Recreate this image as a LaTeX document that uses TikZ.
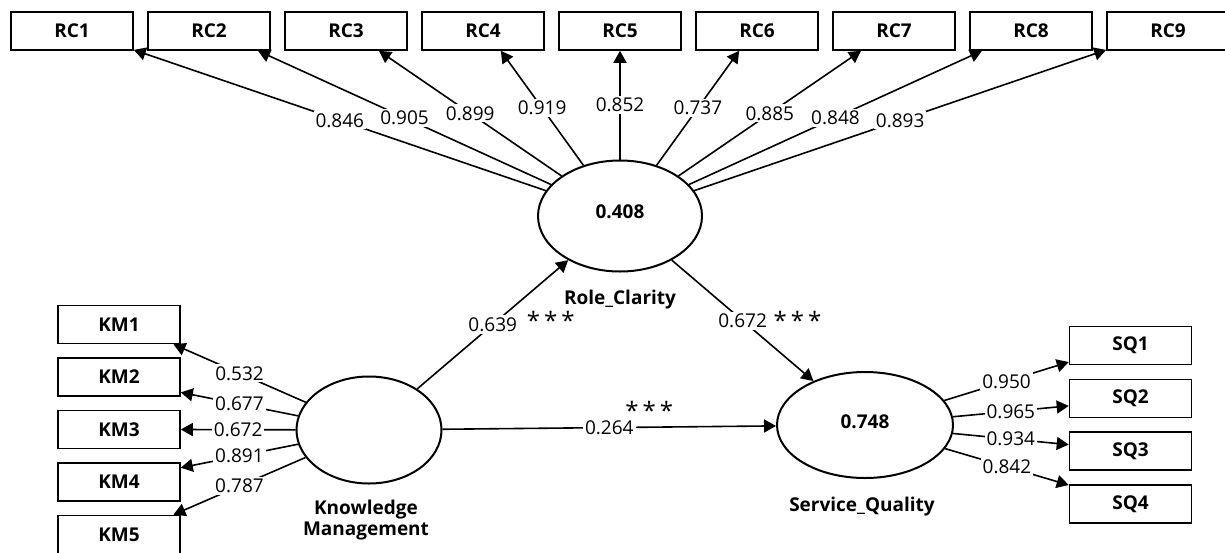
\documentclass[tikz,border=0pt]{standalone}
\usepackage{fontspec}
\setsansfont{Open Sans}
\usetikzlibrary{positioning,calc,arrows.meta,shapes.geometric}
\tikzset{
  figfont/.style={font=\fontsize{9.5}{10.5}\selectfont\sffamily},
  indbox/.style={draw, line width=0.8pt, minimum width=61pt, minimum height=19pt, inner sep=0pt, font=\fontsize{9.5}{10.5}\selectfont\sffamily\bfseries},
  latent/.style={draw, ellipse, line width=1pt, minimum width=82pt, minimum height=55.5pt, inner sep=0pt, font=\fontsize{9.5}{10.5}\selectfont\sffamily\bfseries},
  latname/.style={inner sep=1pt, font=\fontsize{9.5}{10.5}\selectfont\sffamily\bfseries},
  loadarrow/.style={-{Triangle[length=6pt,width=6.5pt]}, line width=0.8pt},
  loadval/.style={fill=white, inner sep=1pt},
  stars/.style={inner sep=0pt, font=\fontsize{12}{12}\selectfont\sffamily},
}

\begin{document}
\begin{tikzpicture}[x=0.5pt,y=-0.5pt,figfont]
  \useasboundingbox (0,0) rectangle (1225,552);

  % Latent constructs
  \node[latent] (rc) at (620,216) {\raisebox{4pt}{0.408}};
  \node[latent, minimum width=72.5pt, minimum height=53.5pt] (km) at (369,430) {};
  \node[latent, minimum width=88pt, minimum height=53pt] (sq) at (865,425) {\raisebox{3pt}{0.748}};
  \node[latname] (rcname) at (620,300) {Role\_Clarity};
  \node[latname, align=center] (kmname) at (366,520) {Knowledge\\Management};
  \node[latname] (sqname) at (862,507) {Service\_Quality};

  % Indicator boxes
  \foreach \i in {1,...,9}
    \node[indbox] (rc\i) at ({72+137*(\i-1)},31) {RC\i};
  \foreach \i in {1,...,5}
    \node[indbox] (km\i) at (119,{324.5+52.5*(\i-1)}) {KM\i};
  \foreach \i in {1,...,4}
    \node[indbox] (sq\i) at (1130.5,{345.5+52.8*(\i-1)}) {SQ\i};

  % Outer loadings
  \foreach \i/\a/\w in {1/-17/0.846, 2/-22/0.905, 3/-31.5/0.899, 4/-48/0.919, 5/-90/0.852,
                        6/-132/0.737, 7/-149/0.885, 8/-158/0.848, 9/-163/0.893}
    \draw[loadarrow] (rc) -- (rc\i.\a) node[midway, loadval] {\w};
  \foreach \i/\a/\w in {1/-20/0.532, 2/-14/0.677, 3/0/0.672, 4/13/0.891, 5/20/0.787}
    \draw[loadarrow] (km) -- (km\i.\a) node[midway, loadval] {\w};
  \foreach \i/\a/\w in {1/-165/0.950, 2/-173/0.965, 3/174/0.934, 4/163/0.842}
    \draw[loadarrow] (sq) -- (sq\i.\a) node[midway, loadval] {\w};

  % Structural paths
  \draw[loadarrow] (km) -- (rc)
    node[midway, loadval] (p1) {0.639}
    node[midway, stars, xshift=29pt, yshift=2pt] (s1) {*\,*\,*};
  \draw[loadarrow] (rc) -- (sq)
    node[midway, loadval] (p2) {0.672}
    node[midway, stars, xshift=27.5pt, yshift=0pt] (s2) {*\,*\,*};
  \draw[loadarrow] (km) -- (sq)
    node[midway, loadval] (p3) {0.264}
    node[midway, stars, xshift=20pt, yshift=8.5pt] (s3) {*\,*\,*};
\end{tikzpicture}
\end{document}
